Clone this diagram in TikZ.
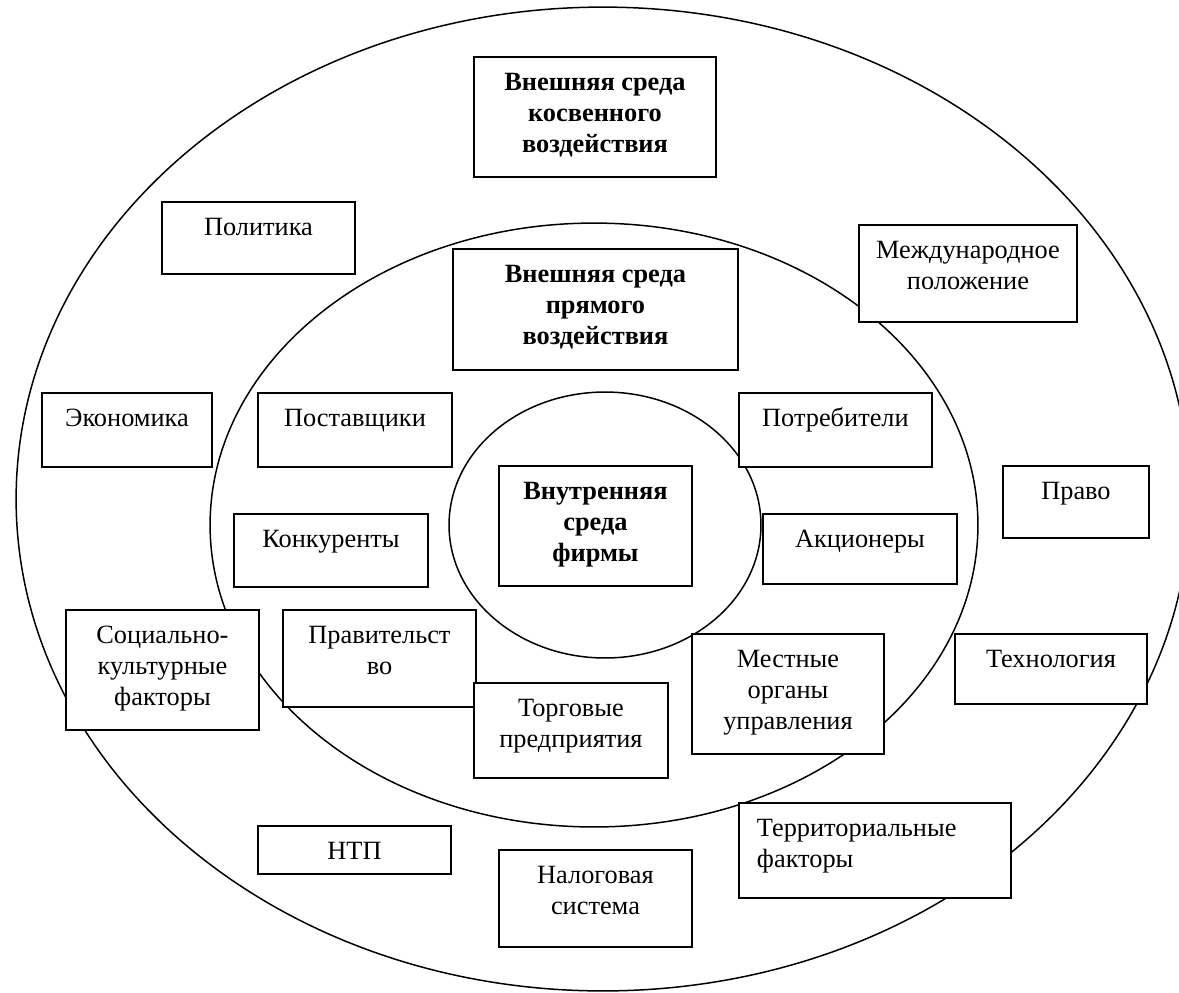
\documentclass[tikz,border=0pt]{standalone}
\usepackage{fontspec}
\setmainfont{Liberation Serif}
\usetikzlibrary{positioning}
\tikzset{
  textbox/.style={draw,fill=white,line width=1.1pt,inner sep=0pt,anchor=north west,
    font=\fontsize{15}{17.5}\selectfont},
  ring/.style={draw,line width=0.85pt}
}
% #2 name, (#3,#4) top left, (#5,#6) bottom right, #7 text
\newcommand\boxnode[7][\centering]{%
  \node[textbox] (#2) at (#3,#4)
    {\parbox[t][\dimexpr 0.02cm*\numexpr#6-#4\relax\relax][t]%
      {\dimexpr 0.02cm*\numexpr#5-#3\relax\relax}{#1\rule{0pt}{0.68cm}#7}};}

\begin{document}
\begin{tikzpicture}[x=0.02cm,y=-0.02cm]
\useasboundingbox (0,0) rectangle (1179,992);
\clip (0,0) rectangle (1179,992);
\fill[white] (0,0) rectangle (1179,992);
\draw[ring] (603,499) ellipse [x radius=11.74cm,y radius=9.84cm];
\draw[ring] (594,525) ellipse [x radius=7.68cm,y radius=6.04cm];
\draw[ring] (605,525) ellipse [x radius=3.12cm,y radius=2.66cm];
\boxnode{kosv}{473}{56}{715}{176}{\bfseries Внешняя среда\\косвенного\\воздействия}
\boxnode{polit}{161}{201}{354}{273}{Политика}
\boxnode{mezhd}{858}{224}{1076}{321}{Международное\\положение}
\boxnode{pryam}{452}{248}{737}{369}{\bfseries Внешняя среда\\прямого\\воздействия}
\boxnode{econ}{41}{392}{211}{466}{Экономика}
\boxnode{post}{257}{392}{451}{466}{Поставщики}
\boxnode{potr}{738}{392}{931}{466}{Потребители}
\boxnode{pravo}{1002}{465}{1148}{537}{Право}
\boxnode{vnutr}{498}{465}{691}{585}{\bfseries Внутренняя\\среда\\фирмы}
\boxnode{konk}{233}{513}{427}{586}{Конкуренты}
\boxnode{akc}{762}{513}{956}{583}{Акционеры}
\boxnode{soc}{65}{609}{258}{729}{Социально-\\культурные\\факторы}
\boxnode{prav}{282}{609}{475}{706}{Правительст\\во}
\boxnode{torg}{473}{682}{667}{777}{Торговые\\предприятия}
\boxnode{mest}{691}{633}{883}{753}{Местные\\органы\\управления}
\boxnode{tech}{954}{633}{1146}{703}{Технология}
\boxnode{ntp}{257}{825}{450}{873}{НТП}
\boxnode{nalog}{498}{849}{691}{946}{Налоговая\\система}
\boxnode[\raggedright\hspace*{0.36cm}]{terr}{738}{802}{1010}{897}{Территориальные\\\hspace*{0.36cm}факторы}
\end{tikzpicture}
\end{document}
